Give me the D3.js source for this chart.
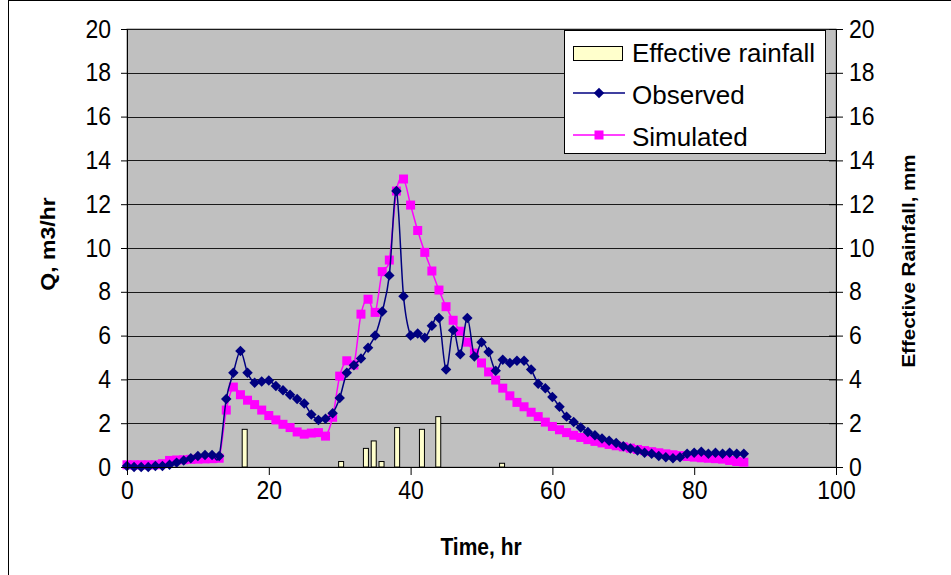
<!DOCTYPE html>
<html>
<head>
<meta charset="utf-8">
<script src="https://cdn.jsdelivr.net/npm/d3@7"></script>
<style>
  body { margin: 0; background: #fff; }
  text { font-family: "Liberation Sans", Arial, sans-serif; }
  .stretch { transform-box: fill-box; transform-origin: center; transform: scaleY(1.1); }
</style>
</head>
<body>
<svg id="chart"></svg>
<script>
// hours of the event (one reading per hour)
const hours = d3.range(0, 88);

const observed = [0.05, 0.0, 0.0, 0.0, 0.05, 0.05, 0.1, 0.2, 0.3, 0.4,
  0.5, 0.55, 0.55, 0.5, 3.1, 4.3, 5.3, 4.3, 3.85, 3.9,
  3.95, 3.7, 3.5, 3.3, 3.1, 2.9, 2.4, 2.15, 2.2, 2.45,
  3.15, 4.3, 4.65, 4.95, 5.45, 6.0, 7.1, 8.75, 12.6, 7.8,
  6.0, 6.1, 5.9, 6.45, 6.8, 4.45, 6.25, 5.15, 6.8, 5.05,
  5.7, 5.25, 4.4, 4.9, 4.75, 4.85, 4.85, 4.45, 3.8, 3.6,
  3.2, 2.75, 2.3, 2.05, 1.8, 1.6, 1.45, 1.3, 1.2, 1.1,
  0.95, 0.85, 0.75, 0.65, 0.6, 0.5, 0.45, 0.4, 0.45, 0.6,
  0.65, 0.7, 0.6, 0.65, 0.6, 0.65, 0.6, 0.6];

const simulated = [0.1, 0.1, 0.1, 0.1, 0.1, 0.15, 0.3, 0.32, 0.33, 0.35,
  0.36, 0.37, 0.38, 0.4, 2.6, 3.65, 3.3, 3.05, 2.85, 2.6,
  2.35, 2.15, 1.95, 1.8, 1.6, 1.5, 1.55, 1.57, 1.41, 2.27,
  4.15, 4.85, 4.66, 6.98, 7.66, 7.06, 8.92, 9.45, 12.6, 13.15,
  11.96, 10.8, 9.8, 8.95, 8.08, 7.32, 6.7, 6.2, 5.7, 5.2,
  4.75, 4.34, 3.97, 3.6, 3.25, 2.95, 2.75, 2.5, 2.3, 2.05,
  1.85, 1.7, 1.57, 1.45, 1.35, 1.25, 1.17, 1.1, 1.03, 0.97,
  0.92, 0.86, 0.8, 0.75, 0.7, 0.65, 0.6, 0.56, 0.52, 0.48,
  0.45, 0.42, 0.4, 0.38, 0.36, 0.3, 0.25, 0.22];

// effective rainfall pulses (hour, mm)
const rainTime = [16.6, 30.2, 33.7, 34.8, 35.9, 38.1, 41.6, 43.9, 52.9];
const rainDepth = [1.72, 0.25, 0.85, 1.19, 0.25, 1.8, 1.72, 2.3, 0.17];

const xTicks = [0, 20, 40, 60, 80, 100];
const yTicks = [0, 2, 4, 6, 8, 10, 12, 14, 16, 18, 20];

const width = 951, height = 575;
const plot = { left: 127, right: 836, top: 29, bottom: 467 };

const svg = d3.select("#chart")
  .attr("width", width)
  .attr("height", height);

// chart area frame
svg.append("rect")
  .attr("x", 8.5).attr("y", 0.5)
  .attr("width", 1000).attr("height", 1000)
  .attr("fill", "#fff").attr("stroke", "#000");

const x = d3.scaleLinear().domain([0, 100]).range([plot.left, plot.right]);
const y = d3.scaleLinear().domain([0, 20]).range([plot.bottom, plot.top]);
const y2 = d3.scaleLinear().domain([0, 20]).range([plot.bottom, plot.top]);

// plot area
svg.append("rect")
  .attr("x", plot.left).attr("y", plot.top)
  .attr("width", plot.right - plot.left).attr("height", plot.bottom - plot.top)
  .attr("fill", "#c0c0c0").attr("stroke", "#808080");

svg.append("g")
  .selectAll("line")
  .data(yTicks.slice(1))
  .enter()
  .append("line")
  .attr("x1", plot.left).attr("x2", plot.right)
  .attr("y1", d => Math.round(y(d)) + 0.5)
  .attr("y2", d => Math.round(y(d)) + 0.5)
  .attr("stroke", "#1a1a1a");

// rainfall bars
svg.append("g")
  .selectAll("rect")
  .data(rainTime)
  .enter()
  .append("rect")
  .attr("x", d => x(d) - 2.5)
  .attr("y", (d, i) => y2(rainDepth[i]))
  .attr("width", 5)
  .attr("height", (d, i) => plot.bottom - y2(rainDepth[i]))
  .attr("fill", "#ffffcc")
  .attr("stroke", "#000")
  .attr("stroke-width", 1);

const line = d3.line()
  .x(d => x(d[0]))
  .y(d => y(d[1]))
  .curve(d3.curveCardinal.tension(0));

const obsPts = hours.map((h, i) => [h, observed[i]]);
const simPts = hours.map((h, i) => [h, simulated[i]]);

svg.append("path")
  .attr("d", line(simPts))
  .attr("fill", "none")
  .attr("stroke", "#ff00ff")
  .attr("stroke-width", 1.5);

svg.append("g")
  .selectAll("rect")
  .data(simPts)
  .enter()
  .append("rect")
  .attr("x", d => x(d[0]) - 4.5)
  .attr("y", d => y(d[1]) - 4.5)
  .attr("width", 9).attr("height", 9)
  .attr("fill", "#ff00ff");

svg.append("path")
  .attr("d", line(obsPts))
  .attr("fill", "none")
  .attr("stroke", "#000080")
  .attr("stroke-width", 1.5);

const diamond = d3.symbol().type(d3.symbolDiamond2).size(70);

svg.append("g")
  .selectAll("path")
  .data(obsPts)
  .enter()
  .append("path")
  .attr("d", diamond)
  .attr("transform", d => `translate(${x(d[0])},${y(d[1])})`)
  .attr("fill", "#000080");

// axes
const axisLeft = svg.append("g")
  .attr("transform", `translate(${plot.left},0)`)
  .call(d3.axisLeft(y).tickValues(yTicks).tickSize(6).tickPadding(10));

const axisRight = svg.append("g")
  .attr("transform", `translate(${plot.right},0)`)
  .call(d3.axisRight(y2).tickValues(yTicks).tickSize(7).tickPadding(6));
axisRight.selectAll(".tick line").attr("x1", -7);

const axisBottom = svg.append("g")
  .attr("transform", `translate(0,${plot.bottom})`)
  .call(d3.axisBottom(x).tickValues(xTicks).tickSize(8).tickPadding(7));

[axisLeft, axisRight, axisBottom].forEach(a => {
  a.select(".domain").attr("stroke", "#000");
  a.selectAll(".tick line").attr("stroke", "#000");
  a.selectAll("text")
    .attr("fill", "#000")
    .attr("class", "stretch")
    .style("font-size", "23px");
});

// axis titles (taller than wide, like the source picture)
const yTitle = svg.append("g").attr("transform", "translate(48,244) scale(1,1.15)");
yTitle.append("text")
  .attr("transform", "rotate(-90)")
  .attr("dy", "0.35em")
  .attr("text-anchor", "middle")
  .style("font-size", "20px")
  .style("font-weight", "bold")
  .text("Q, m3/hr");

const y2Title = svg.append("g").attr("transform", "translate(908,261) scale(1,1.08)");
y2Title.append("text")
  .attr("transform", "rotate(-90)")
  .attr("dy", "0.35em")
  .attr("text-anchor", "middle")
  .style("font-size", "19px")
  .style("font-weight", "bold")
  .text("Effective Rainfall, mm");

const xTitle = svg.append("g").attr("transform", "translate(481,547) scale(1,1.15)");
xTitle.append("text")
  .attr("dy", "0.35em")
  .attr("text-anchor", "middle")
  .style("font-size", "21px")
  .style("font-weight", "bold")
  .text("Time, hr");

// legend
const legend = svg.append("g");
legend.append("rect")
  .attr("x", 564.5).attr("y", 30.5)
  .attr("width", 261).attr("height", 123)
  .attr("fill", "#fff").attr("stroke", "#000");

legend.append("rect")
  .attr("x", 573.5).attr("y", 46.5)
  .attr("width", 49).attr("height", 14)
  .attr("fill", "#ffffcc").attr("stroke", "#000");

legend.append("line")
  .attr("x1", 573).attr("x2", 625).attr("y1", 93).attr("y2", 93)
  .attr("stroke", "#000080").attr("stroke-width", 1.5);
legend.append("path")
  .attr("d", diamond)
  .attr("transform", "translate(599,93)")
  .attr("fill", "#000080");

legend.append("line")
  .attr("x1", 573).attr("x2", 625).attr("y1", 135).attr("y2", 135)
  .attr("stroke", "#ff00ff").attr("stroke-width", 1.5);
legend.append("rect")
  .attr("x", 594.5).attr("y", 130.5)
  .attr("width", 9).attr("height", 9)
  .attr("fill", "#ff00ff");

legend.selectAll("text.lab")
  .data(["Effective rainfall", "Observed", "Simulated"])
  .enter()
  .append("text")
  .attr("class", "lab")
  .attr("x", 632)
  .attr("y", (d, i) => 62 + i * 42)
  .style("font-size", "26px")
  .text(d => d);
</script>
</body>
</html>
